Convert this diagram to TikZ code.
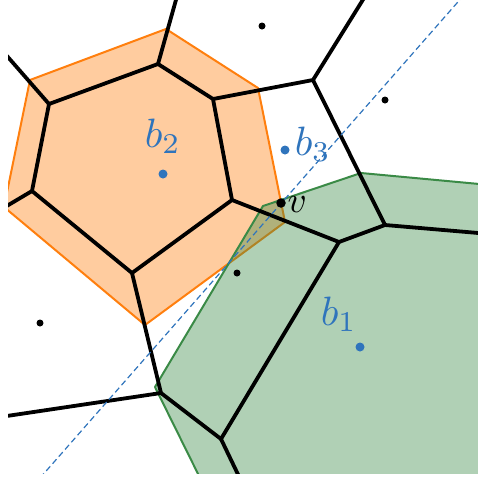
\documentclass[tikz,border=0pt]{standalone}
\definecolor{vorange}{HTML}{FF7F0E}
\definecolor{vgreen}{HTML}{3A8A46}
\definecolor{vblue}{HTML}{2F74BC}
\begin{document}
\begin{tikzpicture}[x=1pt,y=-1pt,
  vor/.style={line width=3.8pt, line cap=round, line join=round},
  regionorange/.style={fill=vorange, fill opacity=0.4},
  regiongreen/.style={fill=vgreen, fill opacity=0.4},
  blackdot/.style={circle, fill=black, inner sep=0pt, minimum size=7pt},
  bigdot/.style={circle, fill=black, inner sep=0pt, minimum size=9.5pt},
  bluedot/.style={circle, fill=vblue, inner sep=0pt, minimum size=9pt},
  lbl/.style={inner sep=0pt, anchor=base west, scale=4.1},
  vlbl/.style={inner sep=0pt, anchor=base west, scale=3.7}]
\useasboundingbox (0,0) rectangle (478,477);
% Voronoi vertices
\coordinate (A) at (158,64);
\coordinate (B) at (213,99);
\coordinate (C) at (232,200);
\coordinate (D) at (132,273);
\coordinate (E) at (32,191);
\coordinate (F) at (49,104);
\coordinate (G) at (313,80);
\coordinate (H) at (385,225);
\coordinate (I) at (339,242);
\coordinate (J) at (161,393);
\coordinate (K) at (221,439);
\coordinate (Aout) at (181,-18);
\coordinate (Fout) at (0,48);
\coordinate (Eout) at (0,210);
\coordinate (Gout) at (369,-10);
\coordinate (Hout) at (490,234);
\coordinate (Jout) at (0,417);
\coordinate (Kout) at (245,489);
% orange region
\coordinate (o1) at (166,29);
\coordinate (o2) at (258,88);
\coordinate (o3) at (285,222);
\coordinate (o4) at (145,325);
\coordinate (o5) at (4,207);
\coordinate (o6) at (30,80);
% green region
\coordinate (g1) at (263,206);
\coordinate (g2) at (361,173);
\coordinate (g3) at (490,185);
\coordinate (g4) at (490,490);
\coordinate (g5) at (206,490);
\coordinate (g6) at (155,387);
% dashed line ends
\coordinate (d1) at (40,478);
\coordinate (d2) at (464,-5);
\begin{scope}
\clip (8,0) rectangle (478,473);
\fill[regionorange] (o1) -- (o2) -- (o3) -- (o4) -- (o5) -- (o6) -- cycle;
\draw[vorange, line width=2pt, line join=round] (o1) -- (o2) -- (o3) -- (o4) -- (o5) -- (o6) -- cycle;
\fill[regiongreen] (g1) -- (g2) -- (g3) -- (g4) -- (g5) -- (g6) -- cycle;
\draw[vgreen, line width=2pt, line join=round] (g1) -- (g2) -- (g3) -- (g4) -- (g5) -- (g6) -- cycle;
\draw[vor] (F) -- (A) -- (B) -- (C) -- (D) -- (E) -- cycle;
\draw[vor] (A) -- (Aout);
\draw[vor] (F) -- (Fout);
\draw[vor] (E) -- (Eout);
\draw[vor] (B) -- (G) -- (Gout);
\draw[vor] (G) -- (H) -- (Hout);
\draw[vor] (H) -- (I) -- (C);
\draw[vor] (D) -- (J) -- (Jout);
\draw[vor] (J) -- (K) -- (I);
\draw[vor] (K) -- (Kout);
\draw[vblue, line width=1.2pt, dash pattern=on 6pt off 3.5pt] (d1) -- (d2);
\end{scope}
% points
\node[blackdot] (p1) at (262,26) {};
\node[blackdot] (p2) at (385,100) {};
\node[blackdot] (p3) at (237,273) {};
\node[blackdot] (p4) at (40,323) {};
\node[bigdot] (v) at (281,203) {};
\node[bluedot] (b1) at (360,347) {};
\node[bluedot] (b2) at (163,174) {};
\node[bluedot] (b3) at (285,150) {};
% labels
\node[lbl, text=vblue] (lb2) at (144,147) {$b_2$};
\node[lbl, text=vblue] (lb3) at (294,155) {$b_3$};
\node[lbl, text=vblue] (lb1) at (320,325) {$b_1$};
\node[vlbl] (lv) at (287,212) {$v$};
\end{tikzpicture}
\end{document}
